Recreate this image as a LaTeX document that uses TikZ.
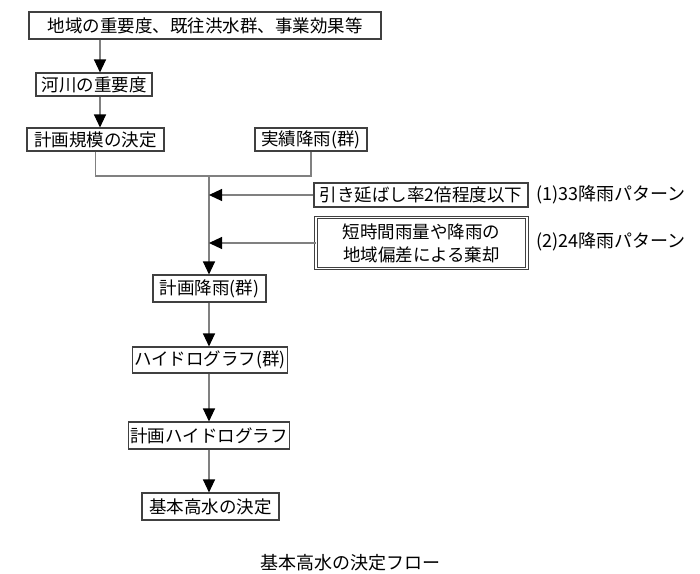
\documentclass[tikz,border=0pt]{standalone}
\usepackage{fontspec}
\setmainfont{Noto Sans CJK JP}
\usetikzlibrary{arrows.meta, positioning, calc}
\definecolor{lineg}{HTML}{808080}
\definecolor{boxg}{HTML}{404040}
\tikzset{
  fbox/.style={rectangle, draw=boxg, line width=1.1pt, fill=white,
               minimum width=#1, minimum height=24pt, inner sep=2pt,
               align=center, font=\fontsize{17.5}{20}\selectfont},
  fbox/.default=100pt,
  dbox/.style={fbox=#1, double=white, double distance=1.6pt, draw=boxg,
               line width=0.9pt, font=\fontsize{17.5}{23}\selectfont},
  arr/.style={-{Triangle[length=13pt, width=12pt, color=black]}, line width=1.1pt, draw=lineg},
  flow/.style={line width=1.1pt, draw=lineg},
  lbl/.style={anchor=west, inner sep=0pt, font=\fontsize{18}{20}\selectfont},
}
\begin{document}
\begin{tikzpicture}[x=1pt, y=-1pt]
  \useasboundingbox (0,0) rectangle (700,573);

  \node[fbox=352pt, minimum height=27pt] (juyo) at (205,25.5) {地域の重要度、既往洪水群、事業効果等};
  \node[fbox=116pt, minimum height=23pt] (kasen) at (94,84.5) {河川の重要度};
  \node[fbox=137pt, minimum height=23pt] (kibo) at (95.5,139.5) {計画規模の決定};
  \node[fbox=112pt, minimum height=23pt] (jisseki) at (311,139.5) {実績降雨(群)};
  \node[fbox=214pt, minimum height=24pt] (nobashi) at (421,195) {引き延ばし率2倍程度以下};
  \node[dbox=211pt, minimum height=51pt] (kikyaku) at (421.5,243) {短時間雨量や降雨の\\地域偏差による棄却};
  \node[fbox=113pt, minimum height=27pt] (keikaku) at (209.5,288.5) {計画降雨(群)};
  \node[fbox=148pt, minimum height=26pt] (hydro) at (210,360) {ハイドログラフ(群)};
  \node[fbox=152pt, minimum height=27pt] (keihydro) at (209,435.5) {計画ハイドログラフ};
  \node[fbox=137pt, minimum height=27pt] (kihon) at (210.5,506.5) {基本高水の決定};

  \node[lbl] (pat1) at (536,195) {(1)33降雨パターン};
  \node[lbl] (pat2) at (536,242) {(2)24降雨パターン};
  \node[font=\fontsize{18}{20}\selectfont] (title) at (350,563) {基本高水の決定フロー};

  \coordinate (ax) at (100,0);
  \coordinate (mx) at (209,0);
  \coordinate (merge) at (209,176);

  \draw[arr] (juyo.south -| ax) -- (kasen.north -| ax);
  \draw[arr] (kasen.south -| ax) -- (kibo.north -| ax);

  % merge of both inputs
  \draw[flow] (kibo.south) |- (merge) -| (jisseki.south);
  \draw[arr] (merge) -- (keikaku.north -| mx);
  \draw[arr] (nobashi.west) -- (nobashi.west -| mx);
  \draw[arr] (kikyaku.west) -- (kikyaku.west -| mx);

  \draw[arr] (keikaku.south -| mx) -- (hydro.north -| mx);
  \draw[arr] (hydro.south -| mx) -- (keihydro.north -| mx);
  \draw[arr] (keihydro.south -| mx) -- (kihon.north -| mx);
\end{tikzpicture}
\end{document}
